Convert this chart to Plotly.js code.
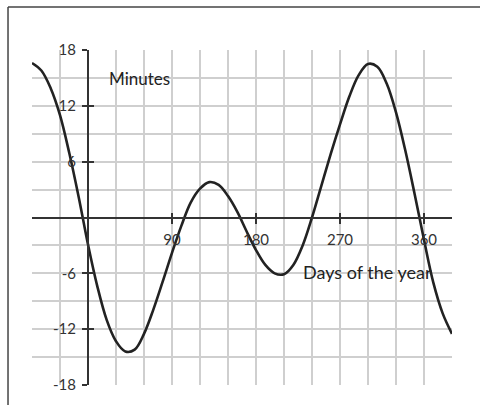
<!DOCTYPE html>
<html>
<head>
<meta charset="utf-8">
<script src="https://cdn.plot.ly/plotly-3.0.1.min.js"></script>
<style>html,body{margin:0;padding:0;background:#fff}#chart{width:480px;height:405px}</style>
</head>
<body>
<div id="chart"></div>
<script>
// Equation of time (days -> minutes)
const days = [-60,-50,-40,-30,-20,-10,0,10,20,30,40,50,60,70,80,90,100,110,120,130,140,150,160,170,180,190,200,210,220,230,240,250,260,270,280,290,300,310,320,330,340,350,360,370,380,390];
const minutes = [16.6,15.8,13.9,11.0,6.9,2.2,-2.9,-7.4,-11.0,-13.3,-14.4,-14.2,-12.5,-9.9,-6.9,-3.8,-0.9,1.6,3.1,3.8,3.5,2.3,0.6,-1.5,-3.5,-5.1,-6.0,-6.1,-5.1,-3.0,0.0,3.4,6.8,10.0,13.0,15.3,16.5,16.2,14.4,11.3,7.2,2.5,-2.4,-7.0,-10.3,-12.5];
const xTickVals = [90,180,270,360];
const xTickText = ['90','180','270','360'];
const yTickVals = [-18,-12,-6,6,12,18];
const yTickText = ['-18','-12','-6','6','12','18'];
const xLabel = 'Days of the year';
const yLabel = 'Minutes';

const XR = [-60,390], YR = [-18,18];
const xpos = (0 - XR[0]) / (XR[1] - XR[0]);
const ypos = (0 - YR[0]) / (YR[1] - YR[0]);
const fam = 'Lato, "DejaVu Sans", sans-serif';
const font = {family: fam, size: 15, color: '#333'};
const axCol = '#333';
const gridCol = '#cfcfcf';

const traces = [
  {x: days, y: minutes, type: 'scatter', mode: 'lines', line: {color: '#222', width: 2.6, shape: 'spline', smoothing: 1}, hoverinfo: 'skip', showlegend: false},
  {x: [null], y: [null], xaxis: 'x2', yaxis: 'y2', type: 'scatter', mode: 'lines', showlegend: false, hoverinfo: 'skip'},
  {x: [null], y: [null], xaxis: 'x3', yaxis: 'y3', type: 'scatter', mode: 'lines', showlegend: false, hoverinfo: 'skip'}
];

const layout = {
  width: 480, height: 405,
  margin: {l: 32, r: 28, t: 50, b: 20, pad: 0, autoexpand: false},
  paper_bgcolor: '#fff', plot_bgcolor: '#fff',
  font: font,
  showlegend: false,
  xaxis: {range: XR, tick0: 0, dtick: 30, showgrid: true, gridcolor: gridCol, gridwidth: 2, showticklabels: false, ticks: '', zeroline: false, showline: false, fixedrange: true},
  yaxis: {range: YR, tick0: 0, dtick: 3, showgrid: true, gridcolor: gridCol, gridwidth: 2, showticklabels: false, ticks: '', zeroline: false, showline: false, fixedrange: true},
  xaxis2: {overlaying: 'x', range: XR, anchor: 'free', position: ypos, side: 'bottom', tickmode: 'array', tickvals: xTickVals, ticktext: xTickText, ticks: 'outside', ticklen: 5, tickwidth: 2, tickcolor: axCol, showline: true, linecolor: axCol, linewidth: 2, showgrid: false, zeroline: false, tickfont: font, ticklabelstandoff: 3, fixedrange: true},
  yaxis2: {overlaying: 'y', range: YR, anchor: 'free', position: xpos, side: 'left', tickmode: 'array', tickvals: yTickVals, ticktext: yTickText, ticks: 'outside', ticklen: 5, tickwidth: 2, tickcolor: axCol, showline: true, linecolor: axCol, linewidth: 2, showgrid: false, zeroline: false, tickfont: font, ticklabelstandoff: 3, fixedrange: true},
  xaxis3: {overlaying: 'x', range: XR, anchor: 'free', position: ypos, side: 'bottom', tickmode: 'array', tickvals: xTickVals, ticks: 'inside', ticklen: 5, tickwidth: 2, tickcolor: axCol, showticklabels: false, showline: false, showgrid: false, zeroline: false, fixedrange: true},
  yaxis3: {overlaying: 'y', range: YR, anchor: 'free', position: xpos, side: 'left', tickmode: 'array', tickvals: yTickVals, ticks: 'inside', ticklen: 5, tickwidth: 2, tickcolor: axCol, showticklabels: false, showline: false, showgrid: false, zeroline: false, fixedrange: true},
  annotations: [
    {x: 20, y: 14.9, xref: 'x', yref: 'y', text: yLabel, showarrow: false, xanchor: 'left', yanchor: 'middle', font: {family: fam, size: 17, color: '#222'}},
    {x: 228.5, y: -5.9, xref: 'x', yref: 'y', text: xLabel, showarrow: false, xanchor: 'left', yanchor: 'middle', font: {family: fam, size: 18, color: '#222'}}
  ],
  shapes: [
    {type: 'line', xref: 'paper', yref: 'paper', x0: -0.0571, x1: 1.07, y0: 1.128, y1: 1.128, line: {color: '#444', width: 1.5}, layer: 'above'},
    {type: 'line', xref: 'paper', yref: 'paper', x0: -0.0571, x1: -0.0571, y0: 1.128, y1: -0.07, line: {color: '#444', width: 1.5}, layer: 'above'}
  ]
};

Plotly.newPlot('chart', traces, layout, {staticPlot: true, displayModeBar: false});
</script>
</body>
</html>
